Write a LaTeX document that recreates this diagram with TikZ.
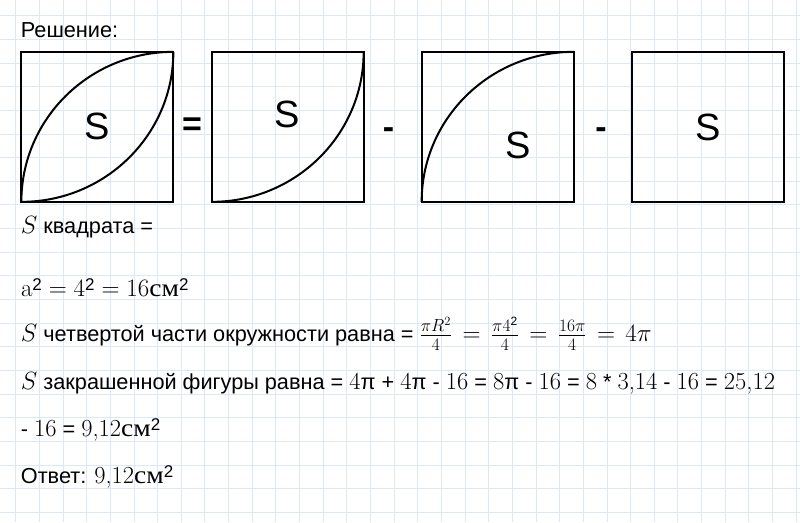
\RequirePackage{fix-cm}
\documentclass[tikz,border=0pt]{standalone}
\usepackage{graphicx}
\usepackage[no-math]{fontspec}
\newfontfamily\rbsans{Liberation Sans}
\newfontfamily\serifcyr{Liberation Serif}
\definecolor{gridc}{HTML}{DDE7F6}
\newcommand\dg[1]{{\rmfamily\fontsize{24.5}{25}\selectfont #1}}
\newcommand\cmu{{\serifcyr\fontsize{25}{25}\selectfont\scalebox{1.1}[1]{см}}}
\newcommand\tw{\raisebox{6pt}{\rbsans\fontsize{17}{17}\selectfont 2}}
\newcommand\mth[1]{{\fontsize{25}{25}\selectfont$#1$}}
\newcommand\mthw[1]{{\fontsize{25}{25}\selectfont\thickmuskip=7.5mu$#1$}}
\tikzset{
  gridline/.style={draw=gridc, line width=0.9pt},
  sqbox/.style={draw=black, line width=2pt, minimum width=152pt, minimum height=150pt, inner sep=0pt, outer sep=0pt},
  arcl/.style={line width=2pt},
  bigS/.style={font=\rbsans\fontsize{38}{38}\selectfont, inner sep=0pt},
  opsign/.style={font=\rbsans\bfseries\fontsize{34}{34}\selectfont, inner sep=0pt},
  txt/.style={anchor=base west, inner sep=0pt, font=\rbsans\fontsize{21.7}{24}\selectfont},
}
\begin{document}
\begin{tikzpicture}[x=1pt,y=-1pt]
\fill[white] (0,0) rectangle (800,522);
\useasboundingbox (0,0) rectangle (800,522);
\foreach \i in {0,...,33} {\draw[gridline] ({15.7+23.65*\i},0) -- ({15.7+23.65*\i},522);}
\foreach \i in {0,...,21} {\draw[gridline] (0,{15.7+23.65*\i}) -- (800,{15.7+23.65*\i});}

% squares
\node[sqbox] (sq1) at (97.35,126.85) {};
\node[sqbox] (sq2) at (287.65,126.85) {};
\node[sqbox] (sq3) at (497.65,126.85) {};
\node[sqbox] (sq4) at (708.35,126.85) {};

\draw[arcl] (sq1.south west) arc[start angle=180,end angle=90,x radius=152pt,y radius=150pt];
\draw[arcl] (sq1.south west) arc[start angle=270,end angle=360,x radius=152pt,y radius=150pt];
\draw[arcl] (sq2.south west) arc[start angle=270,end angle=360,x radius=152pt,y radius=150pt];
\draw[arcl] (sq3.south west) arc[start angle=180,end angle=90,x radius=152pt,y radius=150pt];

\node[bigS] (S1) at (97.5,126.5) {S};
\node[bigS] (S2) at (286.7,114) {S};
\node[bigS] (S3) at (517.7,145.5) {S};
\node[bigS] (S4) at (708.3,127.5) {S};

\node[opsign] (eq) at (192,127) {=};
\node[opsign] (m1) at (388.5,133.5) {-};
\node[opsign] (m2) at (601,133.5) {-};

% text
\node[txt] (t1) at (20.7,37.3) {Решение:};
\node[txt] (t2) at (20.7,233.3) {\mth{S} квадрата =};
\node[txt] (t3) at (20.7,296.7) {\mth{\mathrm{a}\tw = 4\tw = 16\mbox{\cmu}\tw}};
\node[txt] (t4) at (20.7,341.7) {\mth{S} четвертой части окружности равна = \mthw{\frac{\pi R^2}{4} = \frac{\pi 4^{\mbox{\rbsans\fontsize{12}{12}\selectfont 2}}}{4} = \frac{16\pi}{4} = 4\pi}};
\node[txt] (t5) at (20.7,389.3) {\mth{S} закрашенной фигуры равна = \dg{4}π + \dg{4}π - \dg{16} = \dg{8}π - \dg{16} = \dg{8} * \dg{3,14} - \dg{16} = \dg{25,12}};
\node[txt] (t6) at (20.7,436.7) {- \dg{16} = \dg{9,12}\cmu\tw};
\node[txt] (t7) at (20.7,483.3) {Ответ: \dg{9,12}\cmu\tw};
\end{tikzpicture}
\end{document}
